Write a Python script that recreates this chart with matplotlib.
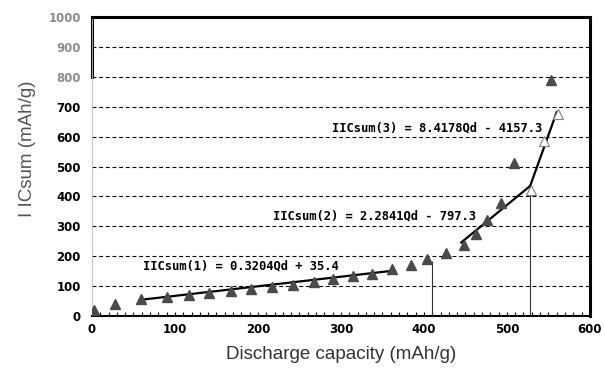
import matplotlib
matplotlib.use('Agg')
import matplotlib.pyplot as plt

# measured points (filled triangles)
cap_filled = [2, 28, 59, 91, 117, 141, 167, 192, 217, 242, 267, 291, 315, 338,
              362, 384, 404, 427, 448, 463, 476, 493, 509, 553]
ics_filled = [20, 40, 57, 64, 70, 77, 84, 90, 97, 104, 114, 124, 134, 140,
              157, 171, 190, 211, 237, 274, 321, 378, 512, 789]
# open triangles
cap_open = [529, 545, 562]
ics_open = [421, 585, 676]

# fitted segments
fit1_x = [59, 360]
fit1_y = [0.3204 * 59 + 35.4, 0.3204 * 360 + 35.4]
fit2_x = [445, 528]
fit2_y = [246, 435]
fit3_x = [528, 560]
fit3_y = [435, 682]

# break markers
break_x = [410, 528]
break_top = [185, 420]

labels = ['IICsum(1) = 0.3204Qd + 35.4',
          'IICsum(2) = 2.2841Qd - 797.3',
          'IICsum(3) = 8.4178Qd - 4157.3']
label_x = [61, 218, 289]
label_y = [167, 334, 629]

fig = plt.figure(figsize=(6.05, 3.72), dpi=100)
ax = fig.add_axes([0.152, 0.1505, 0.823, 0.8035])

for y in range(100, 1000, 100):
    ax.axhline(y, color='black', lw=0.8, dashes=(3.5, 2.5), zorder=1)

ax.vlines(break_x, 0, break_top, color='#333333', lw=0.8, zorder=2)

ax.plot(fit1_x, fit1_y, color='black', lw=1.6, zorder=3)
ax.plot(fit2_x, fit2_y, color='black', lw=1.6, zorder=3)
ax.plot(fit3_x, fit3_y, color='black', lw=1.6, zorder=3)

ax.plot(cap_filled, ics_filled, linestyle='none', marker='^', ms=7.5,
        color='#4a4a4a', zorder=4)
ax.plot(cap_open, ics_open, linestyle='none', marker='^', ms=7.5,
        mfc='white', mec='#808080', mew=0.8, zorder=4)

for t, x, y in zip(labels, label_x, label_y):
    ax.text(x, y, t, family='DejaVu Sans Mono', fontweight='bold',
            fontsize=8.7, va='center', ha='left', zorder=5)

ax.set_xlim(0, 600)
ax.set_ylim(0, 1000)
ax.set_xticks(range(0, 601, 100))
ax.set_xticks(range(0, 601, 10), minor=True)
ax.set_yticks(range(0, 1001, 100))
ax.tick_params(axis='x', which='both', direction='in', length=3, width=0.8,
               labelsize=8.5, pad=5)
ax.tick_params(axis='y', length=0, labelsize=8.5, pad=8)
for lab in ax.get_xticklabels() + ax.get_yticklabels():
    lab.set_fontweight('bold')
for lab in ax.get_yticklabels()[8:]:
    lab.set_alpha(0.45)

ax.spines['top'].set_linewidth(2.2)
ax.spines['right'].set_linewidth(2.2)
ax.spines['bottom'].set_linewidth(1.5)
ax.spines['left'].set_linewidth(0.6)
ax.spines['left'].set_color('#bbbbbb')
ax.axvline(0, ymin=0.8, ymax=1.0, color='black', lw=2.2, clip_on=False)

ax.set_xlabel('Discharge capacity (mAh/g)', family='Liberation Sans',
              fontsize=13.5, color='#333333', labelpad=7)
fig.text(0.045, 0.6, 'I ICsum (mAh/g)', rotation=90, family='Liberation Sans',
         fontsize=13.5, color='#555555', ha='center', va='center')

fig.savefig('out.png', dpi=100)
